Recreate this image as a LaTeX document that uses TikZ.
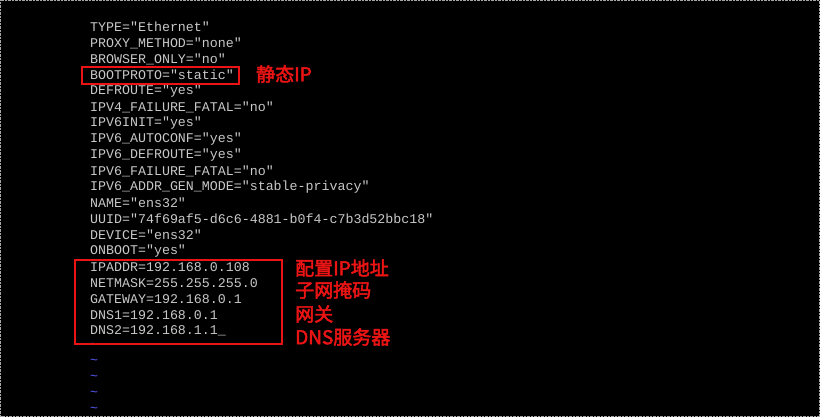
\documentclass[tikz,border=0pt]{standalone}
\usepackage{fontspec}
\setmonofont{Liberation Mono}
\newfontfamily\cjk{Noto Sans CJK SC}[AutoFakeBold=2.5]
\definecolor{term}{RGB}{200,200,200}
\definecolor{tilde}{RGB}{90,90,255}
\definecolor{mark}{RGB}{235,20,20}
\begin{document}
\begin{tikzpicture}[x=1pt,y=-1pt,
  code/.style={anchor=west,inner sep=0pt,text=term,font=\ttfamily\fontsize{13.3}{13.3}\selectfont},
  tl/.style={anchor=west,inner sep=0pt,text=tilde,font=\ttfamily\fontsize{13.3}{13.3}\selectfont},
  lab/.style={anchor=west,inner sep=0pt,text=mark,font=\cjk\bfseries\fontsize{19}{19}\selectfont},
  redbox/.style={draw=mark,line width=1.3pt}]
\fill[black] (0,0) rectangle (820,417);
\draw[gray!70,densely dotted] (0.5,0.5) rectangle (819.5,416.5);
\foreach \t [count=\i from 0] in {TYPE="Ethernet",PROXY\_METHOD="none",BROWSER\_ONLY="no",BOOTPROTO="static",DEFROUTE="yes",IPV4\_FAILURE\_FATAL="no",IPV6INIT="yes",IPV6\_AUTOCONF="yes",IPV6\_DEFROUTE="yes",IPV6\_FAILURE\_FATAL="no",IPV6\_ADDR\_GEN\_MODE="stable-privacy",NAME="ens32",UUID="74f69af5-d6c6-4881-b0f4-c7b3d52bbc18",DEVICE="ens32",ONBOOT="yes",IPADDR=192.168.0.108,NETMASK=255.255.255.0,GATEWAY=192.168.0.1,DNS1=192.168.0.1,DNS2=192.168.1.1\_}
  \node[code] (l\i) at (90,{27+16*\i}) {\t};
\foreach \i in {0,...,4}
  \node[tl] (t\i) at (90,{346+16*\i}) {\char`\~};
\draw[redbox] (82,67) rectangle (239,84);
\draw[redbox] (75,260) rectangle (282,344);
\node[lab] (a) at (256,74) {静态IP};
\node[lab] (b) at (295,268) {配置IP地址};
\node[lab] (c) at (295,290) {子网掩码};
\node[lab] (d) at (295,314) {网关};
\node[lab] (e) at (295,337) {DNS服务器};
\end{tikzpicture}
\end{document}
